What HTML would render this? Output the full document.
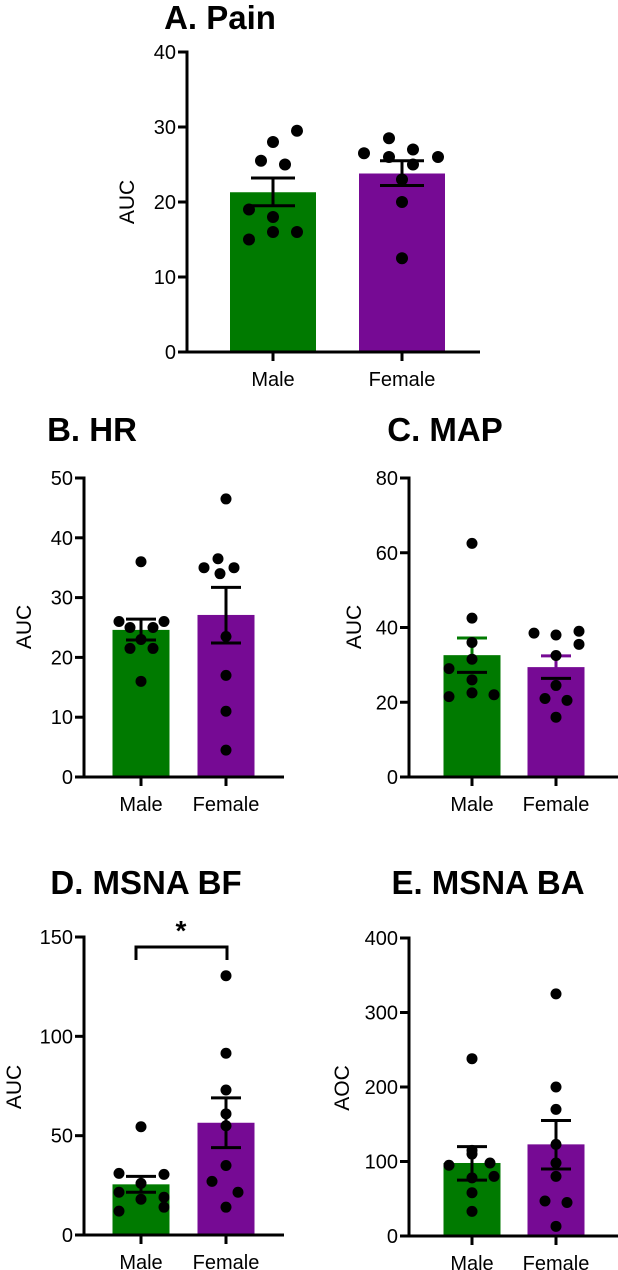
<!DOCTYPE html>
<html><head><meta charset="utf-8"><style>
body{margin:0;background:#fff;}
svg{display:block;font-family:"Liberation Sans",Arial,sans-serif;}
</style></head><body>
<svg id="fig" width="618" height="1270" viewBox="0 0 618 1270"></svg>
<script>
const groups = ["Male","Female"];
const aTicks = [0,10,20,30,40];
const aMeans = [21.3,23.8];
const aSemHi = [23.2,25.5];
const aSemLo = [19.5,22.2];
const aMale = [29.5,28,25.5,25,19,18,16,16,15];
const aFemale = [28.5,26.5,27,26,26,25,23,20,12.5];
const bTicks = [0,10,20,30,40,50];
const bMeans = [24.6,27.1];
const bSemHi = [26.4,31.7];
const bSemLo = [22.9,22.4];
const bMale = [36,26,26,25,25,23,21.5,21.5,16];
const bFemale = [46.5,36.5,35,35,34,23.5,17,11,4.5];
const cTicks = [0,20,40,60,80];
const cMeans = [32.6,29.4];
const cSemHi = [37.2,32.4];
const cSemLo = [28,26.4];
const cMale = [62.5,42.5,36,31.5,29,26,22.5,21.5,22];
const cFemale = [38.5,38,39,35.5,32.5,24.5,21,20.5,16];
const dTicks = [0,50,100,150];
const dMeans = [25.5,56.5];
const dSemHi = [29.5,69];
const dSemLo = [21.5,44];
const dMale = [54.5,31,30.5,26,21.5,18,19,12,14];
const dFemale = [130.5,91.5,73,61,55,35,27,21.5,14];
const eTicks = [0,100,200,300,400];
const eMeans = [98,123];
const eSemHi = [120,155];
const eSemLo = [75,90];
const eMale = [238,115,98,95,80,78,58,33,110];
const eFemale = [325,200,170,123,98,80,47,45,13];

const jA = [[24,0,-12,12,-24,0,0,24,-24],[-13,-38,11,36,-13,11,0,0,0]];
const jB = [[0,-22,23,-11,12,0,-11,12,0],[0,-8,-22,8,-6,0,0,0,0]];
const jC = [[0,0,0,0,-23,0,0,-23,22],[-22,0,23,23,0,0,-11,11,0]];
const jD = [[0,-22,23,0,-22,0,23,-22,23],[0,0,0,0,0,0,-14,12,0]];
const jE = [[0,0,18,-23,22,0,0,0,0],[0,0,0,0,0,0,-11,11,0]];

const NS="http://www.w3.org/2000/svg";
const svg=document.getElementById('fig');
function mk(tag,attrs,parent){const e=document.createElementNS(NS,tag);for(const k in attrs)e.setAttribute(k,attrs[k]);(parent||svg).appendChild(e);return e;}
const colors=["#007a00","#760a94"];

function panel(p){
  const g=mk('g',{});
  
  
  const max=p.ticks[p.ticks.length-1];
  const y=v=>p.y0-(v/max)*(p.y0-p.yTop);
  const t=mk('text',{x:p.titleX,y:p.titleY,'font-size':33,'font-weight':'bold','text-anchor':'middle'},g);
  t.textContent=p.title;
  
  
  const yl=mk('text',{x:0,y:0,'font-size':21,'text-anchor':'middle',transform:`translate(${p.ylX},${p.ylY}) rotate(-90)`},g);
  yl.textContent=p.ylabel;
  
  
  groups.forEach((gname,i)=>{
    const r=mk('rect',{x:p.gx[i]-p.bw/2,y:y(p.means[i]),width:p.bw,height:p.y0-y(p.means[i]),fill:colors[i]},g);
    
    
  });
  groups.forEach((gname,i)=>{
    const ec=p.errColor?p.errColor[i]:'#000';
    const eg=mk('g',{stroke:ec,'stroke-width':3,fill:'none'},g);
    
    
    mk('line',{x1:p.gx[i],x2:p.gx[i],y1:y(p.semHi[i]),y2:y(p.semLo[i])},eg);
    mk('line',{x1:p.gx[i]-p.cap,x2:p.gx[i]+p.cap,y1:y(p.semHi[i]),y2:y(p.semHi[i])},eg);
    mk('line',{x1:p.gx[i]-p.cap,x2:p.gx[i]+p.cap,y1:y(p.semLo[i]),y2:y(p.semLo[i]),stroke:'#000'},eg);
  });
  [p.male,p.female].forEach((arr,i)=>{
    arr.forEach((v,k)=>{
      const c=mk('circle',{cx:p.gx[i]+p.jit[i][k],cy:y(v),r:p.r,fill:'#000'},g);
      
      
    });
  });
  const ax=mk('g',{stroke:'#000','stroke-width':3,fill:'none'},g);
  
  
  mk('line',{x1:p.ax,x2:p.ax,y1:p.yTop-1.5,y2:p.y0+1.5},ax);
  mk('line',{x1:p.ax-9,x2:p.xEnd,y1:p.y0,y2:p.y0},ax);
  p.ticks.forEach(tv=>{
    mk('line',{x1:p.ax-9,x2:p.ax,y1:y(tv),y2:y(tv)},ax);
    const tl=mk('text',{x:p.ax-11,y:y(tv)+7,'font-size':20,'text-anchor':'end'},g);
    tl.textContent=tv;
    
    
  });
  groups.forEach((gname,i)=>{
    mk('line',{x1:p.gx[i],x2:p.gx[i],y1:p.y0,y2:p.y0+9},ax);
    const xl=mk('text',{x:p.gx[i],y:p.y0+34,'font-size':20,'text-anchor':'middle'},g);
    xl.textContent=gname;
    
    
  });
  return {g,y};
}

panel({name:'panel-a-pain',title:'A. Pain',titleX:220,titleY:29,ylabel:'AUC',ylX:134,ylY:202,
  ticks:aTicks,means:aMeans,semHi:aSemHi,semLo:aSemLo,male:aMale,female:aFemale,jit:jA,
  ax:187,y0:352,yTop:52,xEnd:480,gx:[273,402],bw:86,cap:22,r:6});
panel({name:'panel-b-hr',title:'B. HR',titleX:92,titleY:441,ylabel:'AUC',ylX:31,ylY:627,
  ticks:bTicks,means:bMeans,semHi:bSemHi,semLo:bSemLo,male:bMale,female:bFemale,jit:jB,
  ax:84,y0:777,yTop:478,xEnd:284,gx:[141,226],bw:57,cap:15,r:5.5});
panel({name:'panel-c-map',title:'C. MAP',titleX:445,titleY:441,ylabel:'AUC',ylX:361,ylY:627,
  ticks:cTicks,means:cMeans,semHi:cSemHi,semLo:cSemLo,male:cMale,female:cFemale,jit:jC,
  ax:409,y0:777,yTop:478,xEnd:618,gx:[472,556],bw:57,cap:15,r:5.5,errColor:colors});
panel({name:'panel-d-msna-bf',title:'D. MSNA BF',titleX:146,titleY:894,ylabel:'AUC',ylX:21,ylY:1087,
  ticks:dTicks,means:dMeans,semHi:dSemHi,semLo:dSemLo,male:dMale,female:dFemale,jit:jD,
  ax:84,y0:1235,yTop:937,xEnd:284,gx:[141,226],bw:57,cap:15,r:5.5});
panel({name:'panel-e-msna-ba',title:'E. MSNA BA',titleX:488,titleY:894,ylabel:'AOC',ylX:349,ylY:1088,
  ticks:eTicks,means:eMeans,semHi:eSemHi,semLo:eSemLo,male:eMale,female:eFemale,jit:jE,
  ax:409,y0:1236,yTop:938,xEnd:618,gx:[472,556],bw:57,cap:15,r:5.5});
const br=mk('path',{d:'M136 960 V947 H227 V960',stroke:'#000','stroke-width':3,fill:'none'});


const st=mk('text',{x:181,y:940,'font-size':28,'font-weight':'bold','text-anchor':'middle'});
st.textContent='*';


</script>
</body></html>
